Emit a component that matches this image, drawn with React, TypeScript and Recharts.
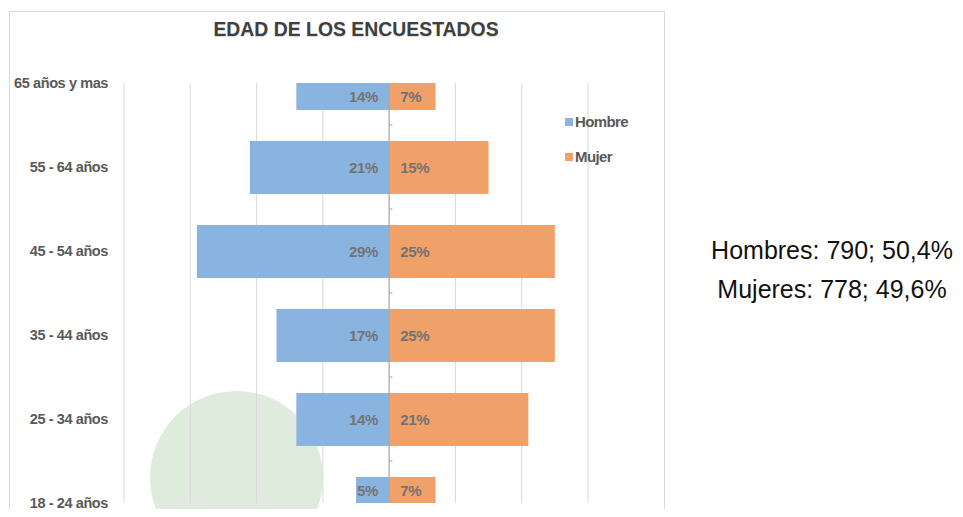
import React from 'react';
import { BarChart, Bar, XAxis, YAxis, CartesianGrid, Legend, LabelList, ReferenceLine } from 'recharts';

// categories top to bottom
const ageGroups = ['65 años y mas', '55 - 64 años', '45 - 54 años', '35 - 44 años', '25 - 34 años', '18 - 24 años'];
const hombrePct = [14, 21, 29, 17, 14, 5];
const mujerPct = [7, 15, 25, 25, 21, 7];
const xTicks = [-40, -30, -20, -10, 0, 10, 20, 30];
const summaryLines = ['Hombres: 790; 50,4%', 'Mujeres: 778; 49,6%'];

const data = ageGroups.map((age, i) => ({
  idx: i,
  age,
  Hombre: -hombrePct[i],
  hombreLabel: hombrePct[i],
  Mujer: mujerPct[i],
}));

const boundaries = ageGroups.slice(1).map((_, i) => i + 0.5);

const CHART_W = 656;
const CHART_H = 506;
const MARGIN = { top: 72, right: 77, bottom: 14, left: 15 };
const PLOT_TOP = MARGIN.top;
const PLOT_BOTTOM = CHART_H - MARGIN.bottom;

const BLUE = '#8ab4e0';
const ORANGE = '#f0a069';
const FONT = '"Liberation Sans", Arial, sans-serif';

const makeLabel = (side: 'left' | 'right') => (props: any) => {
  const vb = props.viewBox || props;
  const { x, y, width, height } = vb;
  const left = Math.min(x, x + width);
  const right = Math.max(x, x + width);
  const top = Math.max(Math.min(y, y + height), PLOT_TOP);
  const bottom = Math.min(Math.max(y, y + height), PLOT_BOTTOM);
  const cy = (top + bottom) / 2;
  return (
    <text
      x={side === 'left' ? right - 11 : left + 11}
      y={cy}
      textAnchor={side === 'left' ? 'end' : 'start'}
      dominantBaseline="central"
      fill="#737373"
      fontSize={15}
      fontWeight="bold"
      fontFamily={FONT}
      letterSpacing={-0.3}
    >
      {props.value}%
    </text>
  );
};

const renderLegend = (props: any) => (
  <div style={{ fontFamily: FONT }}>
    {props.payload.map((entry: any) => (
      <div key={entry.value} style={{ display: 'flex', alignItems: 'center', height: 35 }}>
        <span style={{ width: 8, height: 8, background: entry.color, display: 'inline-block', marginRight: 2 }} />
        <span style={{ fontSize: 15, fontWeight: 'bold', color: '#595959', letterSpacing: -0.6 }}>{entry.value}</span>
      </div>
    ))}
  </div>
);

const App = () => (
  <div style={{ position: 'relative', width: 963, height: 517, margin: -8, overflow: 'hidden', background: '#fff' }}>
    <div style={{ position: 'absolute', left: 150, top: 391, width: 173, height: 173, borderRadius: '50%', background: '#dfecdd' }} />
    <div style={{ position: 'absolute', left: 9, top: 11, width: CHART_W, height: CHART_H + 10, border: '1px solid #d9d9d9', boxSizing: 'border-box' }} />
    <div
      style={{
        position: 'absolute', left: 0, width: 712, top: 18, textAlign: 'center',
        fontFamily: FONT, fontWeight: 'bold', fontSize: 19.4, lineHeight: '22px', color: '#404040',
        textShadow: '0 1px 1px rgba(0,0,0,0.15)',
      }}
    >
      EDAD DE LOS ENCUESTADOS
    </div>
    <div style={{ position: 'absolute', left: 9, top: 11 }}>
      <BarChart width={CHART_W} height={CHART_H} data={data} layout="vertical" stackOffset="sign" margin={MARGIN}>
        <CartesianGrid horizontal={false} stroke="#d9d9d9" />
        <XAxis type="number" domain={[-40, 30]} ticks={xTicks} allowDataOverflow hide />
        <YAxis
          type="number"
          dataKey="idx"
          domain={[0, ageGroups.length - 1]}
          ticks={ageGroups.map((_, i) => i)}
          tickFormatter={(i: number) => ageGroups[i]}
          interval={0}
          allowDataOverflow
          width={100}
          axisLine={false}
          tickLine={false}
          tickSize={0}
          tickMargin={16}
          tick={{ fill: '#595959', fontSize: 14.5, fontWeight: 'bold', fontFamily: FONT, letterSpacing: -0.4 }}
        />
        <Legend
          layout="vertical"
          verticalAlign="middle"
          align="center"
          content={renderLegend}
          wrapperStyle={{ position: 'absolute', left: 556, top: 93, width: 90 }}
        />
        <Bar dataKey="Hombre" stackId="a" fill={BLUE} barSize={53} isAnimationActive={false}>
          <LabelList dataKey="hombreLabel" content={makeLabel('left')} />
        </Bar>
        <Bar dataKey="Mujer" stackId="a" fill={ORANGE} barSize={53} isAnimationActive={false}>
          <LabelList dataKey="Mujer" content={makeLabel('right')} />
        </Bar>
        <ReferenceLine x={0} stroke="#a6a6a6" />
        {boundaries.map((b) => (
          <ReferenceLine key={b} segment={[{ x: 0, y: b }, { x: 0.5, y: b }]} stroke="#a6a6a6" />
        ))}
      </BarChart>
    </div>
    <div
      style={{
        position: 'absolute', left: 696, width: 272, top: 231, textAlign: 'center',
        fontFamily: FONT, fontSize: 25, lineHeight: '39px', color: '#111',
      }}
    >
      {summaryLines.map((l) => (
        <div key={l}>{l}</div>
      ))}
    </div>
  </div>
);

export default App;
